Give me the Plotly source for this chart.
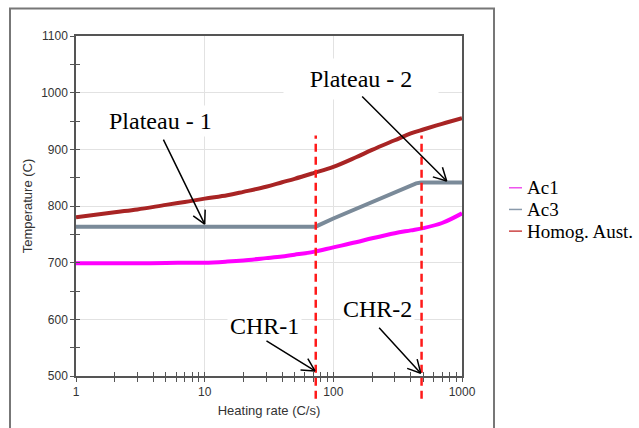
import math
import plotly.graph_objects as go

# ---------------- data ----------------
rate = [1, 2, 3, 5, 7, 10, 15, 20, 30, 40, 50, 70, 100, 150, 200, 300, 400, 500, 700, 1000]
ac1 = [699, 699, 699, 699.5, 700, 700, 702, 704, 708, 711, 714, 719, 727, 736, 743, 752, 757, 761, 770, 787]
homog = [780, 789, 794, 802, 807, 813, 819, 825, 834, 842, 848, 858, 869, 886, 899, 916, 928, 935, 945, 955]

rate_ac3 = [1, 10, 72.8, 100, 150, 200, 300, 394, 440, 480, 1000]
ac3 = [763.5, 763.5, 763.5, 778, 795, 807, 825, 836, 840, 841.5, 841.5]

chr_rates = [73, 485]
chr_labels = ["CHR-1", "CHR-2"]

series_names = ["Ac1", "Ac3", "Homog. Aust."]
series_colors = ["#ff00ff", "#7a8a99", "#a82424"]
legend_line_colors = ["#ee55ee", "#8a9aab", "#cc4444"]

y_ticks = [500, 600, 700, 800, 900, 1000, 1100]
y_minor = [550, 650, 750, 850, 950, 1050]
x_ticks = [1, 10, 100, 1000]
x_tick_text = ["1", "10", "100", "1000"]
x_minor = [m * 10 ** d for d in range(3) for m in range(2, 10)]

# annotation anchor points (data) and arrow tail offsets (pixels)
arrow_tips = [(10, 768), (760, 844), (72, 509), (478, 505)]
arrow_offsets = [(-42, -86), (-86, -86), (-50, -31), (-43, -47)]

# ---------------- figure ----------------
W, H = 639, 428
ML, MR, MT, MB = 76, 177, 36, 47
PW, PH = W - ML - MR, H - MT - MB


def px2paper_x(px):
    return (px - ML) / PW


def px2paper_y(py):
    return (H - MB - py) / PH


fig = go.Figure()
fig.add_trace(go.Scatter(x=rate, y=ac1, mode="lines", name=series_names[0],
                         line=dict(color=series_colors[0], width=4, shape="spline", smoothing=1),
                         showlegend=False))
fig.add_trace(go.Scatter(x=rate_ac3, y=ac3, mode="lines", name=series_names[1],
                         line=dict(color=series_colors[1], width=4),
                         showlegend=False))
fig.add_trace(go.Scatter(x=rate, y=homog, mode="lines", name=series_names[2],
                         line=dict(color=series_colors[2], width=4, shape="spline", smoothing=1),
                         showlegend=False))

# invisible trace to create overlay axes (ticks crossing the axis lines)
fig.add_trace(go.Scatter(x=rate[:1], y=ac1[:1], xaxis="x2", yaxis="y2", mode="markers",
                         marker=dict(opacity=0), showlegend=False, hoverinfo="skip"))

tick_font = dict(family="Liberation Sans, Arial, sans-serif", size=12, color="#333333")
axis_line = "#555555"

fig.update_layout(
    width=W, height=H,
    margin=dict(l=ML, r=MR, t=MT, b=MB),
    paper_bgcolor="white", plot_bgcolor="white",
    xaxis=dict(type="log", range=[0, 3], tickvals=x_ticks, ticktext=x_tick_text,
               ticks="outside", ticklen=4, tickcolor=axis_line, tickwidth=1.2,
               showline=True, linecolor=axis_line, linewidth=1.5, mirror=True,
               showgrid=True, gridcolor="#e2e2e2", gridwidth=1, zeroline=False,
               tickfont=tick_font,
               minor=dict(tickvals=x_minor, ticks="outside", ticklen=4,
                          tickcolor=axis_line, showgrid=False),
               title=dict(text="Heating rate (C/s)", standoff=8,
                          font=dict(family="Liberation Sans, Arial, sans-serif", size=13, color="#333333"))),
    yaxis=dict(range=[500, 1100], tickvals=y_ticks,
               ticks="outside", ticklen=4, tickcolor=axis_line, tickwidth=1.2,
               showline=True, linecolor=axis_line, linewidth=1.5, mirror=True,
               showgrid=True, gridcolor="#e2e2e2", gridwidth=1, zeroline=False,
               tickfont=tick_font,
               minor=dict(tickvals=y_minor, ticks="outside", ticklen=4,
                          tickcolor=axis_line, showgrid=False),
               title=dict(text="Temperature (C)", standoff=6,
                          font=dict(family="Liberation Sans, Arial, sans-serif", size=13, color="#333333"))),
    xaxis2=dict(type="log", range=[0, 3], overlaying="x", anchor="y2", tickvals=x_ticks,
                ticks="inside", ticklen=4, tickcolor=axis_line, tickwidth=1.2,
                showticklabels=False, showgrid=False, showline=False, zeroline=False,
                minor=dict(tickvals=x_minor, ticks="inside", ticklen=4,
                           tickcolor=axis_line, showgrid=False)),
    yaxis2=dict(range=[500, 1100], overlaying="y", anchor="x2", tickvals=y_ticks,
                ticks="inside", ticklen=4, tickcolor=axis_line, tickwidth=1.2,
                showticklabels=False, showgrid=False, showline=False, zeroline=False,
                minor=dict(tickvals=y_minor, ticks="inside", ticklen=4,
                           tickcolor=axis_line, showgrid=False)),
    showlegend=False,
)

shapes = []
# outer frame
shapes.append(dict(type="rect", xref="paper", yref="paper",
                   x0=px2paper_x(10), x1=px2paper_x(494), y0=px2paper_y(460), y1=px2paper_y(8),
                   line=dict(color="#777777", width=2), fillcolor="rgba(0,0,0,0)", layer="below"))
# CHR dashed lines
for r in chr_rates:
    shapes.append(dict(type="line", xref="x", yref="paper", x0=r, x1=r,
                       y0=px2paper_y(404), y1=px2paper_y(137),
                       line=dict(color="#ff1a1a", width=2.5, dash="8px,5px")))
# manual legend lines
leg_y = [190, 212, 234]
for yy, col in zip(leg_y, legend_line_colors):
    shapes.append(dict(type="line", xref="paper", yref="paper",
                       x0=px2paper_x(509), x1=px2paper_x(522),
                       y0=px2paper_y(yy), y1=px2paper_y(yy),
                       line=dict(color=col, width=1.5)))
fig.update_layout(shapes=shapes)

serif = "Liberation Serif, Times New Roman, serif"
annos = []
# legend text
for yy, name in zip(leg_y, series_names):
    annos.append(dict(xref="paper", yref="paper", x=px2paper_x(525), y=px2paper_y(yy),
                      text=name, showarrow=False, xanchor="left", yanchor="middle",
                      font=dict(family=serif, size=19, color="black")))

# callout labels
labels = [("Plateau - 1", 160, 122, None), ("Plateau - 2", 361, 80, 150),
          ("CHR-1", 264, 330, None), ("CHR-2", 377, 313, None)]
for text, cx, cy, wd in labels:
    a = dict(xref="paper", yref="paper", x=px2paper_x(cx), y=px2paper_y(cy),
             text=text, showarrow=False, xanchor="center", yanchor="middle",
             bgcolor="white", borderpad=2,
             font=dict(family=serif, size=24, color="black"))
    if wd:
        a["width"] = wd
        a["height"] = 36
    annos.append(a)

# arrows with open V heads
wing_len, wing_ang = 16, math.radians(28)
for (tx, ty), (ox, oy) in zip(arrow_tips, arrow_offsets):
    xl = math.log10(tx)
    annos.append(dict(xref="x", yref="y", x=xl, y=ty, ax=ox, ay=oy, text="",
                      showarrow=True, arrowhead=0, arrowwidth=1.5, arrowcolor="black"))
    th = math.atan2(oy, ox)
    for s in (-1, 1):
        annos.append(dict(xref="x", yref="y", x=xl, y=ty,
                          ax=wing_len * math.cos(th + s * wing_ang),
                          ay=wing_len * math.sin(th + s * wing_ang), text="",
                          showarrow=True, arrowhead=0, arrowwidth=1.5, arrowcolor="black"))
fig.update_layout(annotations=annos)

fig.write_html("out.html", config={"displayModeBar": False},
               post_script="document.body.style.margin='0';")
